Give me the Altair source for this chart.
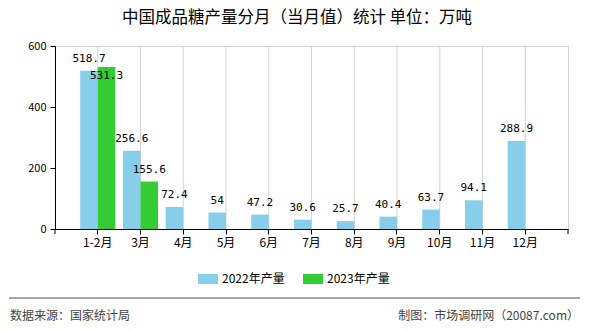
import altair as alt
import pandas as pd

months = ["1-2月", "3月", "4月", "5月", "6月", "7月", "8月", "9月", "10月", "11月", "12月"]
v2022 = [518.7, 256.6, 72.4, 54, 47.2, 30.6, 25.7, 40.4, 63.7, 94.1, 288.9]
v2023 = [531.3, 155.6]
series = ["2022年产量", "2023年产量"]
colors = ["#87CEEB", "#33CC33"]
yticks = [0, 200, 400, 600]
inside_labels = [("1-2月", "2023年产量")]

title_text = "中国成品糖产量分月（当月值）统计 单位：万吨"
source_text = "数据来源：国家统计局"
credit_text = "制图：市场调研网（20087.com）"

rows = []
for m, v in zip(months, v2022):
    rows.append({"month": m, "series": series[0], "value": v})
for m, v in zip(months, v2023):
    rows.append({"month": m, "series": series[1], "value": v})
df = pd.DataFrame(rows)
df["inside"] = [(r.month, r.series) in inside_labels for r in df.itertuples()]

W, H = 513, 183
CJK = "Noto Sans CJK SC"
MONO = "DejaVu Sans Mono"
GRID = "#d3d3d3"

x = alt.X(
    "month:N", sort=months,
    scale=alt.Scale(domain=months, paddingInner=0.18, paddingOuter=0.59),
    axis=alt.Axis(title=None, labelAngle=0, bandPosition=0.5, grid=False,
                  domainColor="black", tickColor="black",
                  tickSize=5, labelFont=CJK, labelFontSize=12,
                  labelColor="black", labelPadding=3),
)
xo = alt.XOffset("series:N", sort=series, scale=alt.Scale(paddingInner=0, paddingOuter=0))
y = alt.Y(
    "value:Q", scale=alt.Scale(domain=[0, 600], nice=False, zero=True),
    axis=alt.Axis(title=None, values=yticks, gridColor=GRID, domainColor="black",
                  tickColor="black", tickSize=5, labelFont=CJK, labelFontSize=11,
                  labelColor="black", labelPadding=4),
)

base = alt.Chart(df)

vgrid = base.transform_filter(alt.datum.series == series[0]).mark_rule(
    color="#d3d3d3", strokeWidth=1
).encode(x=x, y=alt.datum(600), y2=alt.datum(0))

bars = base.mark_bar().encode(
    x=x, xOffset=xo, y=y,
    color=alt.Color(
        "series:N", scale=alt.Scale(domain=series, range=colors),
        legend=alt.Legend(
            orient="none", legendX=143, legendY=223, direction="horizontal",
            title=None, symbolType="M-1,-0.5H1V0.5H-1Z", symbolSize=400,
            symbolStrokeWidth=0, symbolOpacity=1, labelFont=CJK,
            labelFontSize=12, labelColor="black", columnPadding=18,
            labelOffset=4, padding=0,
        ),
    ),
)

labels = base.transform_filter("!datum.inside").mark_text(
    font=MONO, fontSize=11, color="black", baseline="middle", dy=-12
).encode(x=x, xOffset=xo, y=y, text=alt.Text("value:Q"))

labels_in = base.transform_filter("datum.inside").mark_text(
    font=MONO, fontSize=11, color="black", baseline="middle", dy=9
).encode(x=x, xOffset=xo, y=y, text=alt.Text("value:Q"))

one = alt.Chart(pd.DataFrame({"k": [0]}))

end_ticks = alt.layer(
    one.mark_rule(color="black").encode(x=alt.value(0), y=alt.value(H), y2=alt.value(H + 5)),
    one.mark_rule(color="black").encode(x=alt.value(W), y=alt.value(H), y2=alt.value(H + 5)),
)

title = one.mark_text(font=CJK, fontSize=16.5, color="black", align="center", baseline="middle").encode(
    x=alt.value(242), y=alt.value(-28), text=alt.value(title_text))

footer_line = one.mark_rule(color="#888888", strokeWidth=1.5).encode(
    x=alt.value(-46), x2=alt.value(525), y=alt.value(252))

source = one.mark_text(font=CJK, fontSize=12, color="#444444", align="left", baseline="middle").encode(
    x=alt.value(-45), y=alt.value(270), text=alt.value(source_text))

credit = one.mark_text(font=CJK, fontSize=12, color="#444444", align="right", baseline="middle").encode(
    x=alt.value(524), y=alt.value(270), text=alt.value(credit_text))

chart = alt.layer(
    vgrid, bars, labels, labels_in, end_ticks, title, footer_line, source, credit
).properties(
    width=W, height=H,
    autosize=alt.AutoSizeParams(type="none"),
    padding={"left": 55, "top": 46, "right": 22, "bottom": 101},
    background="white",
).configure_view(stroke=GRID)

chart.save("out.html", embed_options={"renderer": "svg", "actions": False})
